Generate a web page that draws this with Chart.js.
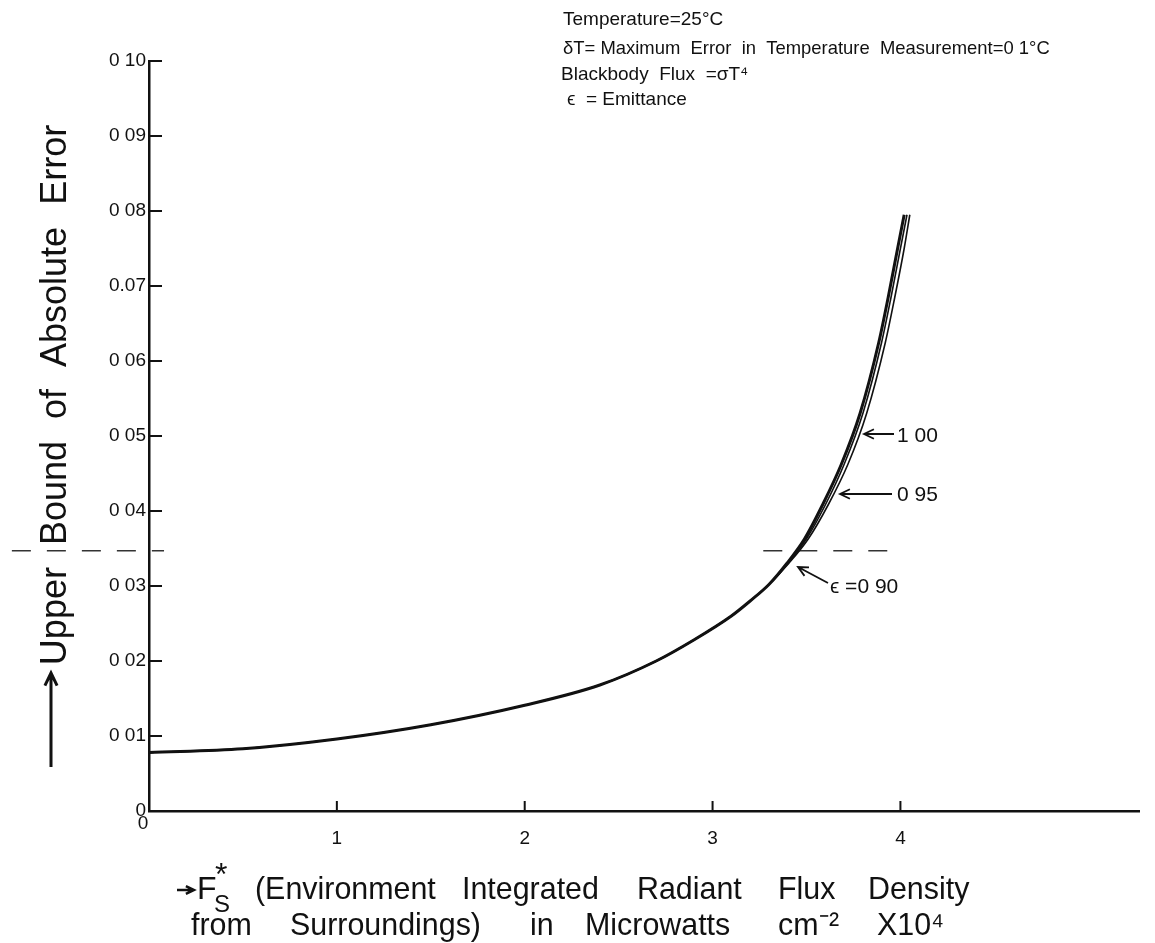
<!DOCTYPE html>
<html>
<head>
<meta charset="utf-8">
<script src="https://cdn.jsdelivr.net/npm/chart.js@4.4.1/dist/chart.umd.min.js"></script>
<style>
  html, body { margin: 0; padding: 0; background: #fff; }
  #wrap { width: 1155px; height: 943px; }
</style>
</head>
<body>
<div id="wrap"><canvas id="c" width="1155" height="943"></canvas></div>
<script>
// values
// x = environment flux (microwatts cm^-2 x10^4), y = upper bound of absolute error
const fluxLow = [0, 0.5, 1.0, 1.5, 2.0, 2.4, 2.7, 2.9, 3.1, 3.2, 3.3];
const errLow = [0.0078, 0.0083, 0.0096, 0.0115, 0.0141, 0.0168, 0.0200, 0.0228, 0.0260, 0.0280, 0.0302];
const errHigh = [0.0330, 0.0363, 0.0408, 0.0462, 0.0530, 0.0625, 0.0685, 0.0750, 0.0795];
const flux090 = [3.395, 3.49, 3.585, 3.685, 3.785, 3.885, 3.935, 3.985, 4.02];
const flux095 = [3.40, 3.50, 3.60, 3.70, 3.80, 3.90, 3.95, 4.00, 4.035];
const flux100 = [3.405, 3.51, 3.615, 3.72, 3.82, 3.92, 3.97, 4.02, 4.05];

const limitErr = 0.0347;
const limitLeftFlux = [-0.73, 0.08];
const limitRightFlux = [3.27, 3.93];

const xTickValues = [0, 1, 2, 3, 4];
const xTickLabels = ['0', '1', '2', '3', '4'];
const yTickLabels = ['0', '0 01', '0 02', '0 03', '0 04', '0 05', '0 06', '0.07', '0 08', '0 09', '0 10'];

const INK = '#111';
const FONT = "'Liberation Sans', Arial, sans-serif";

function curve(fluxHigh) {
  const xs = fluxLow.concat(fluxHigh);
  const ys = errLow.concat(errHigh);
  return xs.map((x, i) => ({ x: x, y: ys[i] }));
}

function limitLine(xs) {
  return xs.map(x => ({ x: x, y: limitErr }));
}

function arrow(ctx, x1, y1, x2, y2, head) {
  const h = head || 11;
  const a = Math.atan2(y2 - y1, x2 - x1);
  ctx.beginPath();
  ctx.moveTo(x1, y1);
  ctx.lineTo(x2, y2);
  ctx.moveTo(x2 - h * Math.cos(a - 0.45), y2 - h * Math.sin(a - 0.45));
  ctx.lineTo(x2, y2);
  ctx.lineTo(x2 - h * Math.cos(a + 0.45), y2 - h * Math.sin(a + 0.45));
  ctx.stroke();
}

// words of the axis title, slightly narrowed like the lettering of the scan
function wordsAt(ctx, list, y, squeeze) {
  list.forEach(w => {
    ctx.save();
    ctx.translate(w[1], y);
    ctx.scale(squeeze, 1);
    ctx.fillText(w[0], 0, 0);
    ctx.restore();
  });
}

const decorations = {
  id: 'decorations',
  afterDraw(chart) {
    const { ctx, scales: { x, y } } = chart;
    ctx.save();
    ctx.strokeStyle = INK;
    ctx.fillStyle = INK;

    // tick marks point into the plot
    ctx.lineWidth = 2;
    ctx.beginPath();
    yTickLabels.forEach((_, i) => {
      const py = y.getPixelForValue(i * 0.01);
      ctx.moveTo(x.left, py);
      ctx.lineTo(x.left + 13, py);
    });
    xTickValues.slice(1).forEach(v => {
      const px = x.getPixelForValue(v);
      ctx.moveTo(px, y.bottom);
      ctx.lineTo(px, y.bottom - 10);
    });
    ctx.stroke();

    // origin label of the x axis sits low and to the left
    ctx.font = '19px ' + FONT;
    ctx.textAlign = 'center';
    ctx.textBaseline = 'middle';
    ctx.fillText(xTickLabels[0], x.getPixelForValue(xTickValues[0]) - 6, y.bottom + 13);

    // legend block at the top
    ctx.textAlign = 'left';
    ctx.font = '19px ' + FONT;
    ctx.fillText('Temperature=25°C', 563, 20);
    ctx.save();
    ctx.translate(563, 49);
    ctx.scale(0.97, 1);
    ctx.fillText('δT= Maximum  Error  in  Temperature  Measurement=0 1°C', 0, 0);
    ctx.restore();
    ctx.fillText('Blackbody  Flux  =σT⁴', 561, 75);
    ctx.fillText('ϵ  = Emittance', 567, 100);

    // curve labels
    ctx.font = '21px ' + FONT;
    ctx.fillText('1 00', 897, 436);
    ctx.fillText('0 95', 897, 495);
    ctx.fillText('ϵ =0 90', 830, 587);
    ctx.lineWidth = 1.8;
    arrow(ctx, 894, 434, 864, 434);
    arrow(ctx, 892, 494, 840, 494);
    arrow(ctx, 828, 583, 798, 567);

    // y axis title with arrow
    ctx.save();
    ctx.translate(66, 395);
    ctx.rotate(-Math.PI / 2);
    ctx.font = '36px ' + FONT;
    ctx.textAlign = 'center';
    ctx.textBaseline = 'alphabetic';
    ctx.wordSpacing = '12px';
    ctx.fillText('Upper Bound of Absolute Error', 0, 0);
    ctx.restore();
    ctx.lineWidth = 3;
    arrow(ctx, 51, 767, 51, 673, 14);

    // x axis title, two lines
    ctx.textAlign = 'left';
    ctx.textBaseline = 'middle';
    ctx.lineWidth = 2.5;
    arrow(ctx, 177, 890, 194, 890, 9);
    ctx.font = '32px ' + FONT;
    ctx.fillText('F', 197, 890);
    ctx.font = '24px ' + FONT;
    ctx.fillText('S', 214, 905);
    ctx.font = '32px ' + FONT;
    ctx.fillText('*', 215, 876);
    wordsAt(ctx, [['(Environment', 255], ['Integrated', 462], ['Radiant', 637], ['Flux', 778], ['Density', 868]], 890, 0.95);
    wordsAt(ctx, [['from', 191], ['Surroundings)', 290], ['in', 530], ['Microwatts', 585], ['cm⁻²', 778], ['X10⁴', 877]], 926, 0.95);

    ctx.restore();
  }
};

const curveStyle = {
  borderColor: INK,
  pointRadius: 0,
  fill: false,
  cubicInterpolationMode: 'monotone'
};

const dashStyle = {
  borderColor: '#333',
  borderWidth: 1.4,
  borderDash: [19, 16],
  pointRadius: 0,
  fill: false,
  clip: false
};

new Chart(document.getElementById('c'), {
  type: 'line',
  data: {
    datasets: [
      Object.assign({ label: 'ϵ = 0.90', data: curve(flux090), borderWidth: 3 }, curveStyle),
      Object.assign({ label: 'ϵ = 0.95', data: curve(flux095), borderWidth: 1.6 }, curveStyle),
      Object.assign({ label: 'ϵ = 1.00', data: curve(flux100), borderWidth: 1.6 }, curveStyle),
      Object.assign({ label: 'limit left', data: limitLine(limitLeftFlux) }, dashStyle),
      Object.assign({ label: 'limit right', data: limitLine(limitRightFlux) }, dashStyle)
    ]
  },
  options: {
    responsive: false,
    animation: false,
    devicePixelRatio: 1,
    layout: { padding: { top: 61, right: 5, left: 0, bottom: 0 } },
    plugins: {
      legend: { display: false },
      tooltip: { enabled: false }
    },
    scales: {
      x: {
        type: 'linear',
        min: 0,
        max: 5.27,
        afterFit(s) { s.height = 132; },
        grid: { display: false, drawTicks: false },
        border: { display: true, color: INK, width: 2.5 },
        ticks: {
          stepSize: 1,
          padding: 16,
          color: INK,
          font: { family: FONT, size: 19 },
          maxRotation: 0,
          callback(v) {
            const i = xTickValues.indexOf(v);
            return i > 0 ? xTickLabels[i] : '';
          }
        }
      },
      y: {
        min: 0,
        max: 0.1,
        afterFit(s) { s.width = 149; },
        grid: { display: false, drawTicks: false },
        border: { display: true, color: INK, width: 2.5 },
        ticks: {
          stepSize: 0.01,
          padding: 3,
          color: INK,
          font: { family: FONT, size: 19 },
          callback(v, i) { return yTickLabels[i] !== undefined ? yTickLabels[i] : ''; }
        }
      }
    }
  },
  plugins: [decorations]
});
</script>
</body>
</html>
